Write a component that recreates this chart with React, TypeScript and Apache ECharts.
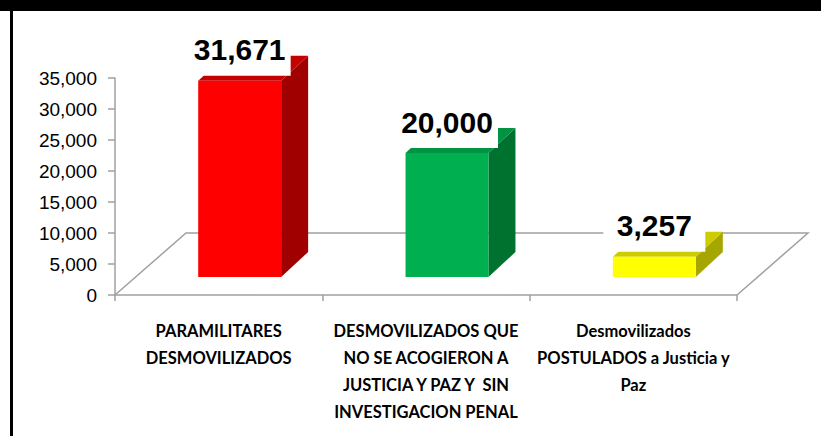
import React, { useEffect, useRef } from "react";
import * as echarts from "echarts";

const categories = [
  "PARAMILITARES\nDESMOVILIZADOS",
  "DESMOVILIZADOS QUE\nNO SE ACOGIERON A\nJUSTICIA Y PAZ Y  SIN\nINVESTIGACION PENAL",
  "Desmovilizados\nPOSTULADOS a Justicia y\nPaz",
];
const values = [31671, 20000, 3257];
const yTicks = [0, 5000, 10000, 15000, 20000, 25000, 30000, 35000];

const frontColors = ["#FF0000", "#00B050", "#FFFF00"];
const topColors = ["#C40000", "#009442", "#CCCC00"];
const sideColors = ["#A00000", "#00722F", "#A6A600"];

const FONT = '"Liberation Sans", Arial, sans-serif';
const CAT_FONT = 'Lato, "Liberation Sans", Arial, sans-serif';
const AXIS_GRAY = "#A0A0A0";

// 3D look constants (pixels)
const FLOOR_DX = 71;
const FLOOR_DY = -62;
const FACE_DX = 21;
const FACE_DY = -18;
const BAR_DX = 27;
const BAR_DY = -25;

export default function App() {
  const ref = useRef<HTMLDivElement>(null);

  useEffect(() => {
    if (!ref.current) return;
    const chart = echarts.init(ref.current, null, { renderer: "svg" });

    const floorItem = (params: any) => {
      const cs = params.coordSys;
      const x = cs.x, y = cs.y + cs.height, w = cs.width;
      return {
        type: "polyline",
        shape: {
          points: [
            [x, y],
            [x + FLOOR_DX, y + FLOOR_DY],
            [x + w + FLOOR_DX, y + FLOOR_DY],
            [x + w, y],
          ],
        },
        style: { stroke: AXIS_GRAY, lineWidth: 1.5, fill: "none" },
      };
    };

    const barItem = (params: any, api: any) => {
      const i = api.value(0);
      const v = api.value(1);
      const base = api.coord([i, 0]);
      const top = api.coord([i, v]);
      const bw = api.size([1, 0])[0];
      const faceW = bw * 0.4;
      const cx = base[0] + FACE_DX;
      const fl = cx - faceW / 2;
      const fr = cx + faceW / 2;
      const fb = base[1] + FACE_DY;
      const ft = top[1] + FACE_DY;
      const idx = params.dataIndex;
      const label = values[idx].toLocaleString("en-US");
      const boxW = 102;
      const boxH = 46;
      return {
        type: "group",
        children: [
          {
            type: "polygon",
            shape: { points: [[fr, ft], [fr + BAR_DX, ft + BAR_DY], [fr + BAR_DX, fb + BAR_DY], [fr, fb]] },
            style: { fill: sideColors[idx] },
          },
          {
            type: "polygon",
            shape: { points: [[fl, ft], [fr, ft], [fr + BAR_DX, ft + BAR_DY], [fl + BAR_DX, ft + BAR_DY]] },
            style: { fill: topColors[idx] },
          },
          {
            type: "rect",
            shape: { x: fl, y: ft, width: faceW, height: fb - ft },
            style: { fill: frontColors[idx] },
          },
          {
            type: "rect",
            shape: { x: cx - boxW / 2, y: ft - 5 - boxH, width: boxW, height: boxH },
            style: { fill: "#FFFFFF" },
          },
          {
            type: "text",
            x: cx,
            y: ft - 31,
            style: {
              text: label,
              fill: "#000000",
              fontSize: 30,
              fontWeight: "bold",
              fontFamily: FONT,
              align: "center",
              textAlign: "center",
              verticalAlign: "middle",
              textVerticalAlign: "middle",
            },
          },
        ],
      };
    };

    chart.setOption({
      animation: false,
      backgroundColor: "#FFFFFF",
      grid: { left: 115, right: 84, top: 78, bottom: 141, containLabel: false },
      xAxis: {
        type: "category",
        data: categories,
        boundaryGap: true,
        axisLine: { show: true, lineStyle: { color: AXIS_GRAY, width: 1.5 } },
        axisTick: { show: true, length: 6, lineStyle: { color: AXIS_GRAY, width: 1.5 } },
        axisLabel: {
          interval: 0,
          margin: 22,
          color: "#000000",
          fontSize: 16.5,
          fontWeight: "bold",
          fontFamily: CAT_FONT,
          lineHeight: 27,
          align: "center",
        },
      },
      yAxis: {
        type: "value",
        min: yTicks[0],
        max: yTicks[yTicks.length - 1],
        interval: 5000,
        axisLine: { show: true, lineStyle: { color: AXIS_GRAY, width: 1.5 } },
        axisTick: { show: true, length: 7, lineStyle: { color: AXIS_GRAY, width: 1.5 } },
        splitLine: { show: false },
        axisLabel: {
          margin: 18,
          color: "#000000",
          fontSize: 19,
          fontFamily: FONT,
          formatter: (v: number) => v.toLocaleString("en-US"),
        },
      },
      graphic: [
        { type: "rect", shape: { x: 0, y: 0, width: 821, height: 11 }, style: { fill: "#000000" }, z: 100 },
        { type: "rect", shape: { x: 10, y: 0, width: 3, height: 436 }, style: { fill: "#000000" }, z: 100 },
      ],
      series: [
        {
          type: "custom",
          renderItem: floorItem,
          data: [[0]],
          z: 1,
          silent: true,
        },
        {
          type: "custom",
          renderItem: barItem,
          data: values.map((v, i) => [i, v]),
          z: 5,
          silent: true,
        },
      ],
    });

    return () => chart.dispose();
  }, []);

  return (
    <div
      ref={ref}
      style={{ position: "fixed", left: 0, top: 0, width: 821, height: 436 }}
    />
  );
}
